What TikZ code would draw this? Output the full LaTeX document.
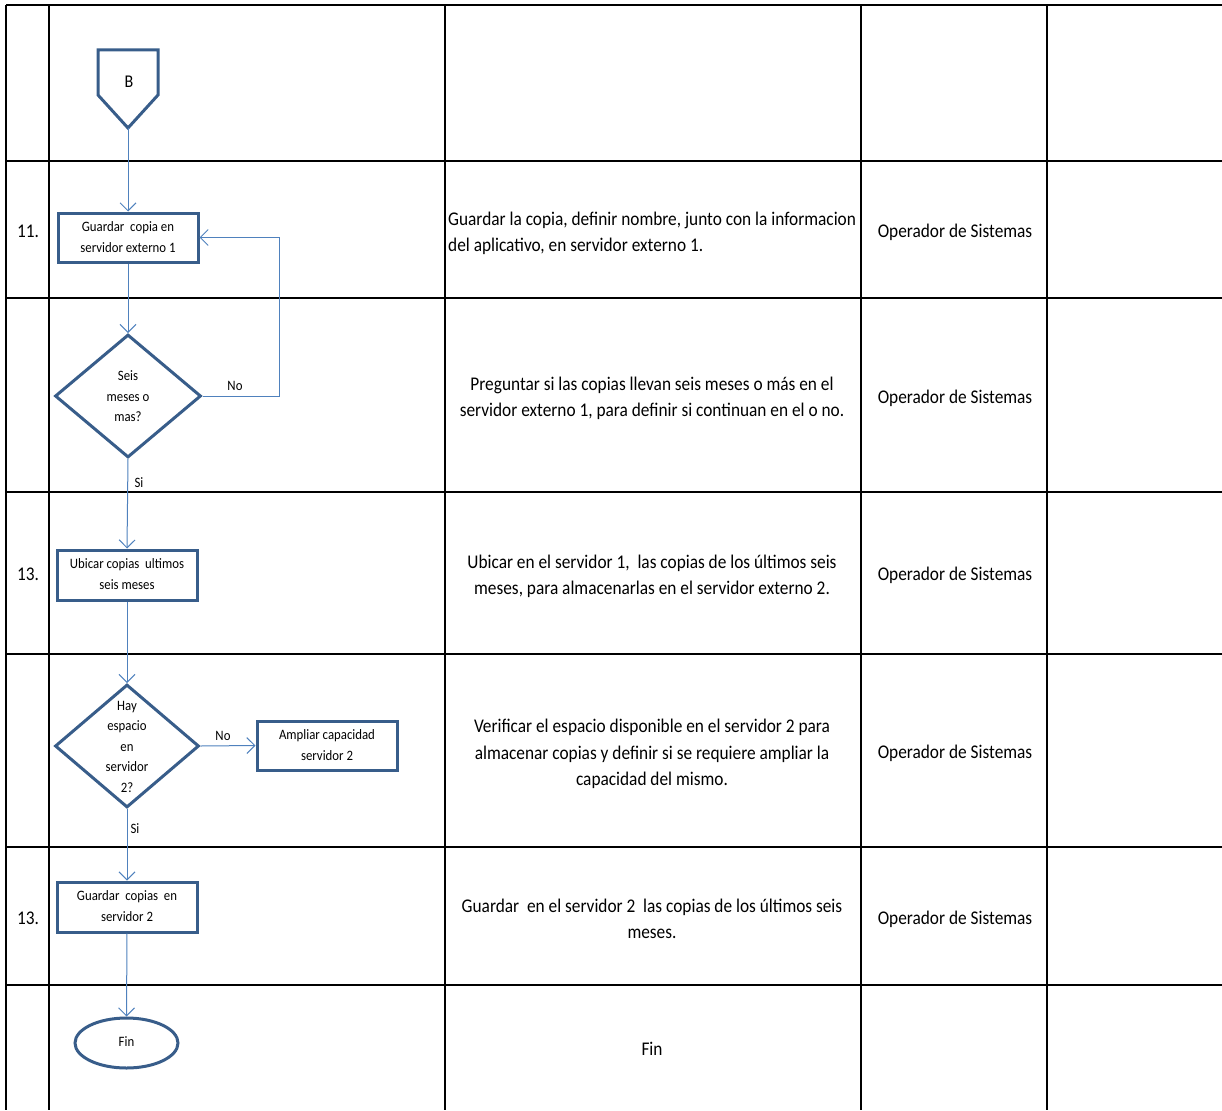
\documentclass[tikz,border=0pt]{standalone}
\usepackage{fontspec}
\setmainfont{Carlito}
\usetikzlibrary{shapes.geometric,arrows.meta}
\definecolor{shapeblue}{RGB}{56,93,138}
\definecolor{linkblue}{RGB}{79,129,189}
\newcommand\vstr[2]{\scalebox{1}[1.12]{\begin{tabular}{@{}#1@{}}#2\end{tabular}}}
\tikzset{
  hline/.style={line width=2pt,black},
  vline/.style={line width=1.3pt,black},
  procbox/.style={draw=shapeblue,line width=3pt,rectangle,minimum width=140pt,inner sep=0pt,align=center,font=\fontsize{12.8}{18.75}\selectfont},
  decis/.style={draw=shapeblue,line width=3pt,diamond,inner sep=0pt},
  dtext/.style={inner sep=0pt,font=\fontsize{12.8}{18.3}\selectfont},
  link/.style={draw=linkblue,line width=1pt,-{Straight Barb[length=8pt,width=16pt]}},
  lbl/.style={font=\fontsize{12.8}{14}\selectfont,inner sep=0pt},
  desc/.style={font=\fontsize{17.3}{23.8}\selectfont,align=center,inner sep=0pt},
  who/.style={font=\fontsize{17.3}{20}\selectfont,inner sep=0pt},
  num/.style={font=\fontsize{17.3}{20}\selectfont,inner sep=0pt}
}
\begin{document}
\begin{tikzpicture}[x=1pt,y=-1pt]
\useasboundingbox (0,0) rectangle (1222,1110);
% table
\foreach \yy in {5,161,298,492,654,847,985} \draw[hline] (6,\yy) -- (1222,\yy);
\foreach \xx in {6,49,445,861,1047} \draw[vline] (\xx,5) -- (\xx,1110);
% numbers
\node[num] (n11) at (28,233) {\vstr{c}{11.}};
\node[num] (n13a) at (28,576) {\vstr{c}{13.}};
\node[num] (n13b) at (28,920) {\vstr{c}{13.}};
% off-page connector B
\draw[shapeblue,line width=3pt,line join=miter] (98,50) -- (158,50) -- (158,95) -- (128,128) -- (98,95) -- cycle;
\node[font=\fontsize{16}{18}\selectfont,inner sep=0pt] (B) at (129,83) {\vstr{c}{B}};
\coordinate (Btip) at (128,128);
% shapes
\node[procbox,minimum height=49pt] (g1) at (128,237.5) {\vstr{c}{Guardar\ \ copia en\\servidor externo 1}};
\node[decis,minimum width=146pt,minimum height=123pt] (d1) at (128,396) {};
\node[dtext] (d1t) at (128,397) {\vstr{c}{Seis\\meses o\\mas?}};
\node[procbox,minimum height=50pt] (u1) at (127,575) {\vstr{c}{Ubicar copias\ \ ultimos\\seis meses}};
\node[decis,minimum width=144pt,minimum height=123pt] (d2) at (127,746) {};
\node[dtext] (d2t) at (127,747) {\vstr{c}{Hay\\espacio\\en\\servidor\\2?}};
\node[procbox,minimum height=49pt] (a1) at (327,745.5) {\vstr{c}{Ampliar capacidad\\servidor 2}};
\node[procbox,minimum height=50pt] (g2) at (127,907) {\vstr{c}{Guardar\ \ copias\ \ en\\servidor 2}};
\node[draw=shapeblue,line width=3pt,ellipse,minimum width=103pt,minimum height=50pt,inner sep=0pt,font=\fontsize{12.8}{14}\selectfont] (fin) at (126.5,1043) {\vstr{c}{Fin}};
% connectors
\draw[link] (Btip) -- (g1.north);
\draw[link] (g1.south) -- (d1.north);
\coordinate (loopA) at (279,396);
\coordinate (loopB) at (279,237.5);
\draw[link] (d1.east) -- (loopA) -- (loopB) -- (g1.east);
\node[lbl] (no1) at (235,387) {\vstr{c}{No}};
\draw[link] (d1.south) -- (u1.north);
\node[lbl] (si1) at (139,484) {\vstr{c}{Si}};
\draw[link] (u1.south) -- (d2.north);
\draw[link] (d2.east) -- (a1.west);
\node[lbl] (no2) at (223,737) {\vstr{c}{No}};
\draw[link] (d2.south) -- (g2.north);
\node[lbl] (si2) at (135,830) {\vstr{c}{Si}};
\draw[link] (g2.south) -- (fin.north);
% descriptions
\node[desc,anchor=west] (t1) at (448,233) {\vstr{l}{Guardar la copia, definir nombre, junto con la informacion\\del aplicativo, en servidor externo 1.}};
\node[desc] (t2) at (652,398) {\vstr{c}{Preguntar si las copias llevan seis meses o más en el\\servidor externo 1, para definir si continuan en el o no.}};
\node[desc] (t3) at (652,576) {\vstr{c}{Ubicar en el servidor 1,\ \ las copias de los últimos seis\\meses, para almacenarlas en el servidor externo 2.}};
\node[desc] (t4) at (652,754) {\vstr{c}{Verificar el espacio disponible en el servidor 2 para\\almacenar copias y definir si se requiere ampliar la\\capacidad del mismo.}};
\node[desc] (t5) at (652,920) {\vstr{c}{Guardar\ \ en el servidor 2\ \ las copias de los últimos seis\\meses.}};
\node[desc] (t6) at (652,1050) {\vstr{c}{Fin}};
% responsible
\node[who] (w1) at (955,233) {\vstr{c}{Operador de Sistemas}};
\node[who] (w2) at (955,399) {\vstr{c}{Operador de Sistemas}};
\node[who] (w3) at (955,576) {\vstr{c}{Operador de Sistemas}};
\node[who] (w4) at (955,754) {\vstr{c}{Operador de Sistemas}};
\node[who] (w5) at (955,920) {\vstr{c}{Operador de Sistemas}};
\end{tikzpicture}
\end{document}
